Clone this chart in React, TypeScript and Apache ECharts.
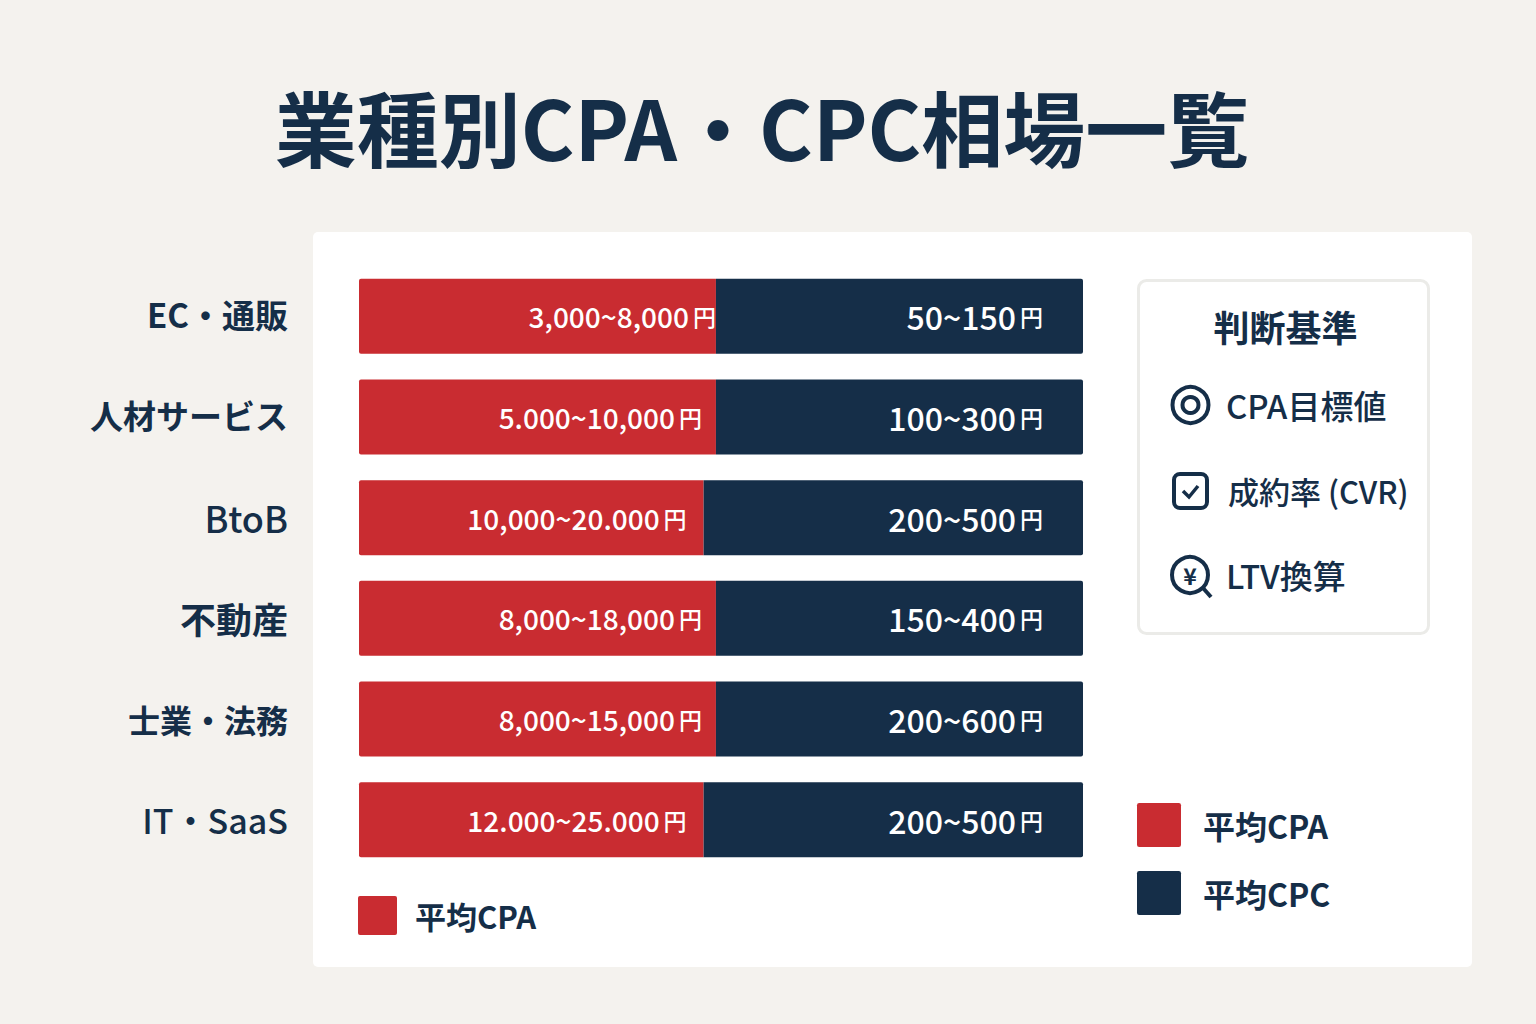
import React, { useEffect, useRef } from "react";
import * as echarts from "echarts";

const FONT = '"Noto Sans CJK JP", "Noto Sans", sans-serif';
const NAVY = "#152e48";
const RED = "#c92c31";
const SWATCH = "path://M5,0H95Q100,0 100,5V95Q100,100 95,100H5Q0,100 0,95V5Q0,0 5,0Z";

const categories = ["EC・通販", "人材サービス", "BtoB", "不動産", "士業・法務", "IT・SaaS"];
const categoryStyles = ["a", "a", "l", "c", "s", "m"];
const cpaShare = [49.3, 49.3, 47.6, 49.3, 49.3, 47.6];
const cpcShare = [50.7, 50.7, 52.4, 50.7, 50.7, 52.4];
const cpaLabels = ["3,000~8,000", "5.000~10,000", "10,000~20.000", "8,000~18,000", "8,000~15,000", "12.000~25.000"];
const cpcLabels = ["50~150", "100~300", "200~500", "150~400", "200~600", "200~500"];
const cpaLabelGaps = [0, 14, 17, 14, 14, 17];
const criteria = ["CPA目標値", "成約率 (CVR)", "LTV換算"];
const criteriaSizes = [33, 31, 33];

const cpaRich = {
  v: { color: "#fff", fontFamily: FONT, fontSize: 28, fontWeight: 500 },
  y: { color: "#fff", fontFamily: FONT, fontSize: 23, fontWeight: 500, padding: [0, 0, 0, 4] },
};
const cpcRich = {
  v: { color: "#fff", fontFamily: FONT, fontSize: 32, fontWeight: 500 },
  y: { color: "#fff", fontFamily: FONT, fontSize: 23, fontWeight: 500, padding: [0, 0, 0, 4] },
};

export default function App() {
  const ref = useRef<HTMLDivElement>(null);
  useEffect(() => {
    const chart = echarts.init(ref.current!, null, { renderer: "svg" });
    const iconStroke = { stroke: NAVY, lineWidth: 4, fill: "transparent" };
    chart.setOption({
      animation: false,
      backgroundColor: "#f4f2ee",
      title: {
        text: "業種別CPA・CPC相場一覧",
        left: 757,
        top: 64,
        textAlign: "center",
        textStyle: { color: NAVY, fontFamily: FONT, fontSize: 82, fontWeight: 700, lineHeight: 112 },
      },
      grid: { left: 359, top: 266, width: 724, height: 604 },
      xAxis: { type: "value", min: 0, max: 100, show: false },
      yAxis: {
        type: "category",
        inverse: true,
        data: categories,
        axisLine: { show: false },
        axisTick: { show: false },
        axisLabel: {
          margin: 71,
          align: "right",
          formatter: (v: string, i: number) => `{${categoryStyles[i]}|${v}}`,
          rich: {
            a: { color: NAVY, fontFamily: FONT, fontSize: 33, fontWeight: 700, padding: [0, 0, 4, 0] },
            c: { color: NAVY, fontFamily: FONT, fontSize: 36, fontWeight: 700 },
            s: { color: NAVY, fontFamily: FONT, fontSize: 32, fontWeight: 700 },
            l: { color: NAVY, fontFamily: FONT, fontSize: 36, fontWeight: 500, padding: [0, 0, 2, 0] },
            m: { color: NAVY, fontFamily: FONT, fontSize: 34, fontWeight: 500 },
          },
        },
      },
      legend: [
        {
          data: ["平均CPA"],
          left: 353,
          top: 891,
          itemWidth: 39,
          itemHeight: 39,
          icon: SWATCH,
          textStyle: { color: NAVY, fontFamily: FONT, fontSize: 31, fontWeight: 700, padding: [0, 0, 10, 13] },
        },
        {
          data: ["平均CPA", "平均CPC"],
          orient: "vertical",
          left: 1132,
          top: 798,
          itemGap: 24,
          itemWidth: 44,
          itemHeight: 45,
          icon: SWATCH,
          textStyle: { color: NAVY, fontFamily: FONT, fontSize: 32, fontWeight: 700, padding: [0, 0, 10, 17] },
        },
      ],
      series: [
        {
          name: "平均CPA",
          type: "bar",
          stack: "t",
          barWidth: 75,
          itemStyle: { color: RED, borderRadius: [2, 0, 0, 2] },
          data: cpaShare.map((v, i) => ({
            value: v,
            label: {
              show: true,
              position: "insideRight",
              distance: cpaLabelGaps[i],
              formatter: `{v|${cpaLabels[i]}}{y|円}`,
              rich: cpaRich,
            },
          })),
        },
        {
          name: "平均CPC",
          type: "bar",
          stack: "t",
          barWidth: 75,
          itemStyle: { color: NAVY, borderRadius: [0, 2, 2, 0] },
          data: cpcShare.map((v, i) => ({
            value: v,
            label: {
              show: true,
              position: "insideRight",
              distance: 40,
              formatter: `{v|${cpcLabels[i]}}{y|円}`,
              rich: cpcRich,
            },
          })),
        },
      ],
      graphic: [
        { type: "rect", z: -10, shape: { x: 313, y: 232, width: 1159, height: 735, r: 5 }, style: { fill: "#ffffff" } },
        {
          type: "rect",
          z: -5,
          shape: { x: 1138.5, y: 280.5, width: 290, height: 353, r: 8 },
          style: { fill: "#fff", stroke: "#ebebe8", lineWidth: 3 },
        },
        {
          type: "text",
          x: 1285.5,
          y: 326,
          style: { text: "判断基準", align: "center", verticalAlign: "middle", fill: NAVY, font: `700 36px ${FONT}` },
        },
        { type: "circle", shape: { cx: 1190.5, cy: 405, r: 18 }, style: iconStroke },
        { type: "circle", shape: { cx: 1190.5, cy: 405, r: 8 }, style: iconStroke },
        { type: "rect", shape: { x: 1174, y: 474, width: 33, height: 34, r: 6 }, style: iconStroke },
        {
          type: "polyline",
          shape: { points: [[1183, 491], [1189, 497], [1198, 486]] },
          style: { stroke: NAVY, lineWidth: 3.5, fill: "transparent" },
        },
        { type: "circle", shape: { cx: 1190, cy: 575, r: 18 }, style: iconStroke },
        {
          type: "line",
          shape: { x1: 1203, y1: 588, x2: 1211, y2: 597 },
          style: { stroke: NAVY, lineWidth: 4 },
        },
        {
          type: "text",
          x: 1190,
          y: 575,
          style: { text: "¥", align: "center", verticalAlign: "middle", fill: NAVY, font: `700 23px ${FONT}` },
        },
        ...criteria.map((t, i) => ({
          type: "text",
          x: i === 1 ? 1228 : 1226,
          y: 405 + i * 85,
          style: { text: t, align: "left", verticalAlign: "middle", fill: NAVY, font: `500 ${criteriaSizes[i]}px ${FONT}` },
        })),
      ],
    });
    return () => chart.dispose();
  }, []);
  return <div ref={ref} style={{ position: "absolute", left: 0, top: 0, width: 1536, height: 1024 }} />;
}
